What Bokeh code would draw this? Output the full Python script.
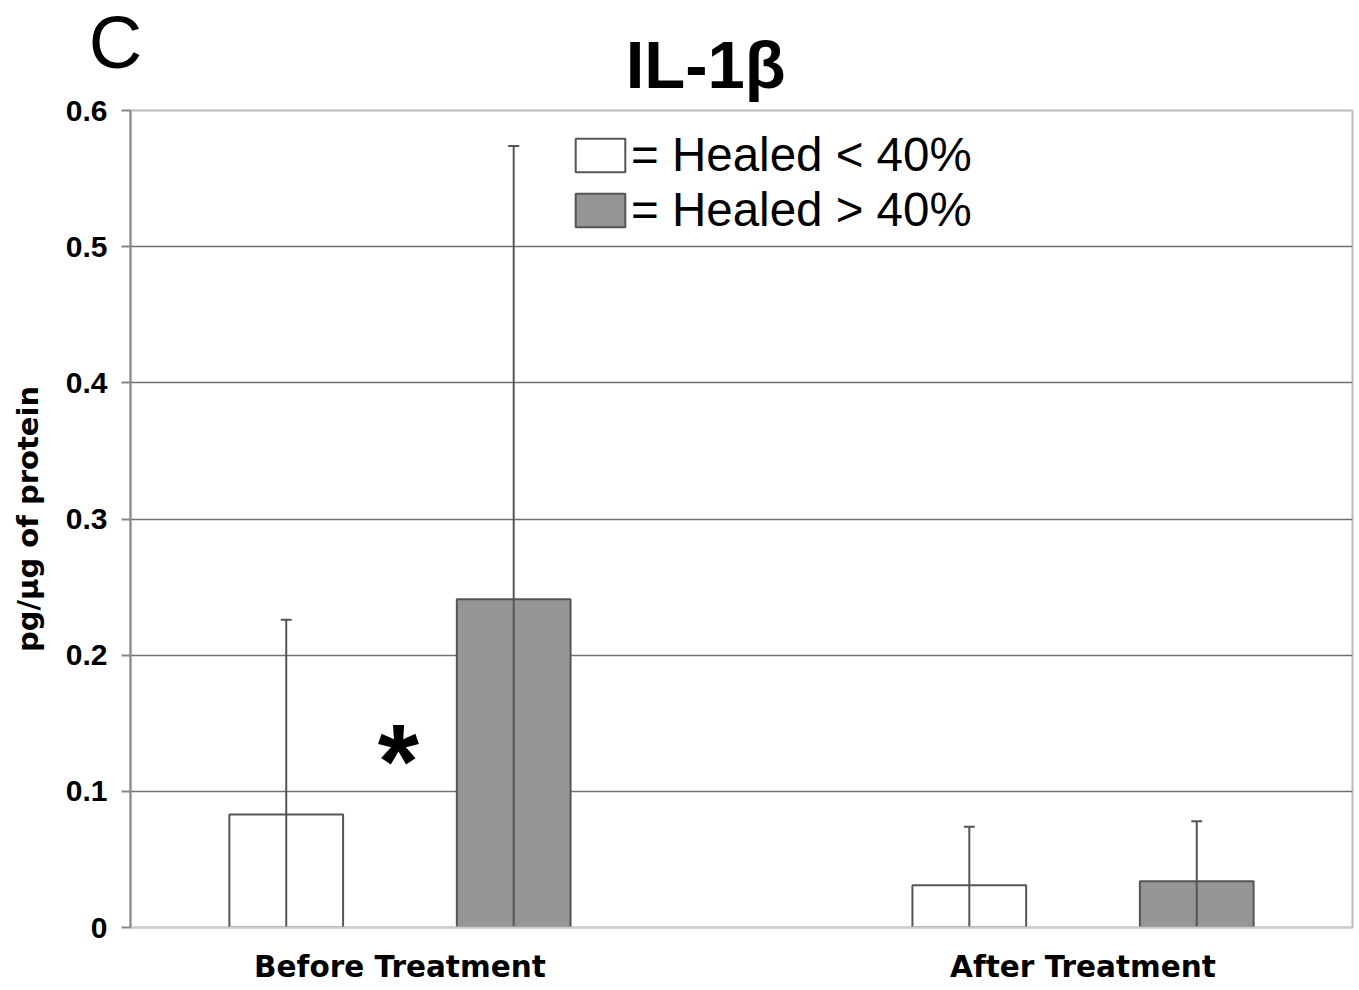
from bokeh.plotting import figure
from bokeh.models import (ColumnDataSource, FactorRange, FixedTicker, NumeralTickFormatter,
                          Legend, LegendItem, Label, Range1d)
from bokeh.core.properties import value
from bokeh.transform import dodge
from bokeh.embed import file_html
from bokeh.resources import INLINE

# ---- data ----
groups = ["Before Treatment", "After Treatment"]
healed_lt40_mean = [0.083, 0.031]
healed_lt40_sd = [0.143, 0.043]
healed_gt40_mean = [0.241, 0.034]
healed_gt40_sd = [0.333, 0.044]
y_ticks = [0, 0.1, 0.2, 0.3, 0.4, 0.5, 0.6]
series_labels = ["= Healed < 40%", "= Healed > 40%"]
panel_letter = "C"
chart_title = "IL-1β"
y_label = "pg/µg of protein"

src = ColumnDataSource(dict(
    group=groups,
    lt=healed_lt40_mean,
    lt_lo=[m - s for m, s in zip(healed_lt40_mean, healed_lt40_sd)],
    lt_hi=[m + s for m, s in zip(healed_lt40_mean, healed_lt40_sd)],
    gt=healed_gt40_mean,
    gt_lo=[m - s for m, s in zip(healed_gt40_mean, healed_gt40_sd)],
    gt_hi=[m + s for m, s in zip(healed_gt40_mean, healed_gt40_sd)],
))

FONT = "Liberation Sans"
WIDE = "DejaVu Sans"
EDGE = "#555555"

p = figure(width=1356, height=990, output_backend="svg", toolbar_location=None,
           x_range=FactorRange(factors=groups, factor_padding=1.0,
                               range_padding=0.289, range_padding_units="absolute"),
           y_range=Range1d(0, 0.6),
           min_border_left=130, min_border_right=4, min_border_top=110, min_border_bottom=63)

p.background_fill_color = "white"
p.border_fill_color = "white"
p.outline_line_color = "#bbbbbb"
p.outline_line_width = 2

off = 0.333
bw = 0.333
r_lt = p.vbar(x=dodge("group", -off, range=p.x_range), top="lt", width=bw, source=src,
              fill_color="white", line_color=EDGE, line_width=2)
r_gt = p.vbar(x=dodge("group", off, range=p.x_range), top="gt", width=bw, source=src,
              fill_color="#969696", line_color=EDGE, line_width=2)

for c, k in ((-off, "lt"), (off, "gt")):
    p.segment(x0=dodge("group", c, range=p.x_range), y0=k + "_lo",
              x1=dodge("group", c, range=p.x_range), y1=k + "_hi", source=src,
              line_color=EDGE, line_width=2)
    p.scatter(x=dodge("group", c, range=p.x_range), y=k + "_hi", source=src, marker="dash",
              size=11, line_color=EDGE, line_width=2)

# axes
p.yaxis.ticker = FixedTicker(ticks=y_ticks)
p.yaxis.formatter = NumeralTickFormatter(format="0.[0]")
p.yaxis.axis_line_color = "#888888"
p.yaxis.axis_line_width = 2
p.yaxis.major_tick_line_color = "#888888"
p.yaxis.major_tick_line_width = 2
p.yaxis.major_tick_out = 9
p.yaxis.major_tick_in = 0
p.yaxis.minor_tick_line_color = None
p.yaxis.major_label_standoff = 14
p.yaxis.major_label_text_font = FONT
p.yaxis.major_label_text_font_style = "bold"
p.yaxis.major_label_text_font_size = "30px"
p.yaxis.major_label_text_color = "black"
p.yaxis.axis_label = y_label
p.yaxis.axis_label_text_font = WIDE
p.yaxis.axis_label_text_font_style = "bold"
p.yaxis.axis_label_text_font_size = "29px"
p.yaxis.axis_label_text_color = "black"
p.yaxis.axis_label_standoff = 18

p.xaxis.axis_line_color = "#cccccc"
p.xaxis.axis_line_width = 2
p.xaxis.major_tick_line_color = None
p.xaxis.minor_tick_line_color = None
p.xaxis.major_label_standoff = 16
p.xaxis.major_label_text_font = WIDE
p.xaxis.major_label_text_font_style = "bold"
p.xaxis.major_label_text_font_size = "29.5px"
p.xaxis.major_label_text_color = "black"

p.xgrid.grid_line_color = None
p.ygrid.grid_line_color = "#707070"
p.ygrid.grid_line_width = 1.5

legend = Legend(items=[LegendItem(label=series_labels[0], renderers=[r_lt]),
                       LegendItem(label=series_labels[1], renderers=[r_gt])],
                location=(439, 690), orientation="vertical",
                glyph_width=62, glyph_height=42, label_standoff=0, spacing=0,
                padding=0, margin=0, border_line_color=None, background_fill_alpha=0,
                label_text_font=FONT, label_text_font_size="47.5px", label_text_color="black")
p.add_layout(legend)

# panel letter and title, drawn above the plot area (overlay level is not clipped)
p.text(x=[-0.333], y=[0.650], text=[panel_letter], level="overlay",
       text_font=value(FONT), text_font_size="74px", text_align="center",
       text_baseline="middle", text_color="black")
p.text(x=[1.395], y=[0.634], text=[chart_title], level="overlay",
       text_font=value(FONT), text_font_style="bold", text_font_size="67px",
       text_align="center", text_baseline="middle", text_color="black")

p.add_layout(Label(x=268, y=167, x_units="screen", y_units="screen", text="*",
                   text_font=FONT, text_font_style="bold", text_font_size="106px",
                   text_align="center", text_baseline="middle", text_color="black"))

open("out.html", "w").write(file_html(p, INLINE))
